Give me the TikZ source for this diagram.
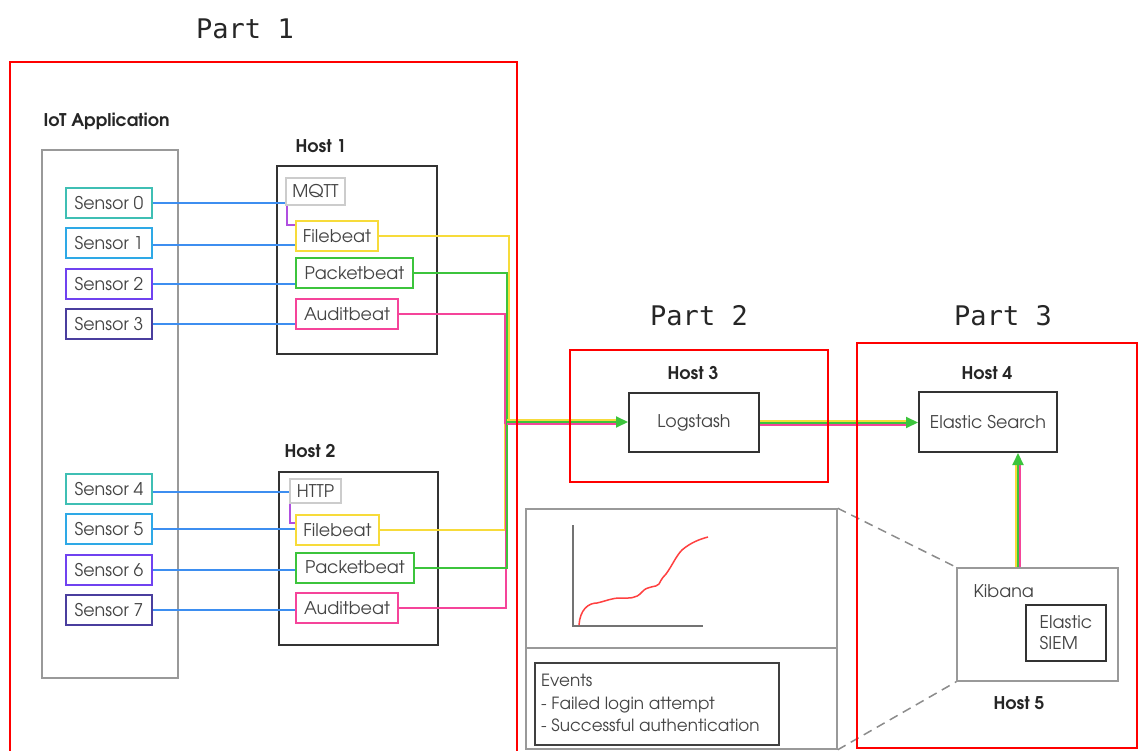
\documentclass[tikz,border=0pt]{standalone}
\usepackage{fontspec}
\setmainfont{TeX Gyre Adventor}
\newfontfamily\monof{DejaVu Sans Mono}
\usetikzlibrary{arrows.meta}
\definecolor{cteal}{HTML}{3FBFB4}
\definecolor{csky}{HTML}{2EA9E6}
\definecolor{cviolet}{HTML}{7042F0}
\definecolor{cindigo}{HTML}{4A3E9E}
\definecolor{cwire}{HTML}{3D8EF0}
\definecolor{cpurp}{HTML}{B04FE0}
\definecolor{cyel}{HTML}{F7DB3A}
\definecolor{cgrn}{HTML}{3CC43C}
\definecolor{cpink}{HTML}{F5449A}
\definecolor{ctext}{HTML}{444444}
\begin{document}
\begin{tikzpicture}[x=1pt,y=-1pt,
  frame/.style={draw=red,line width=2.5pt},
  partlbl/.style={font=\monof\fontsize{27}{30}\selectfont,text=black!85},
  hostlbl/.style={font=\bfseries\fontsize{17.5}{20}\selectfont,text=black!85},
  txt/.style={font=\fontsize{17.5}{21}\selectfont,text=ctext},
  sensor/.style={txt,draw,line width=2pt,minimum width=86pt,minimum height=30pt,inner sep=0pt},
  beat/.style={txt,draw,line width=2pt,minimum height=30pt,inner sep=0pt},
  hostbox/.style={draw=black!80,line width=2pt,inner sep=0pt},
  graybox/.style={draw=black!40,line width=1.5pt,inner sep=0pt},
  wire/.style={draw=cwire,line width=2pt},
  ywire/.style={draw=cyel,line width=2pt},
  gwire/.style={draw=cgrn,line width=2pt},
  pwire/.style={draw=cpink,line width=2pt},
  tip/.style={-{Triangle[length=12pt,width=11pt]}}
]
\useasboundingbox (0,0) rectangle (1138,751);
\fill[white] (0,0) rectangle (1138,751);

% Part labels
\node[partlbl] (p1) at (245,29) {Part 1};
\node[partlbl] (p2) at (699,316) {Part 2};
\node[partlbl] (p3) at (1003,316) {Part 3};

% IoT application
\node[hostlbl,anchor=west] (iotl) at (40,121) {IoT Application};
\node[graybox,minimum width=136pt,minimum height=528pt] (iot) at (110,414) {};

\node[sensor,draw=cteal] (s0) at (109,203) {Sensor 0};
\node[sensor,draw=csky] (s1) at (109,243) {Sensor 1};
\node[sensor,draw=cviolet] (s2) at (109,284) {Sensor 2};
\node[sensor,draw=cindigo] (s3) at (109,324) {Sensor 3};
\node[sensor,draw=cteal] (s4) at (109,489) {Sensor 4};
\node[sensor,draw=csky] (s5) at (109,529) {Sensor 5};
\node[sensor,draw=cviolet] (s6) at (109,570) {Sensor 6};
\node[sensor,draw=cindigo] (s7) at (109,610) {Sensor 7};

% Host 1
\node[hostlbl] (h1l) at (321,146) {Host 1};
\node[hostbox,minimum width=160pt,minimum height=188pt] (h1) at (357,260) {};
\node[txt,draw=black!20,line width=1.5pt,minimum width=59pt,minimum height=27pt,inner sep=0pt] (mqtt) at (315.5,191.5) {MQTT};
\node[beat,draw=cyel,minimum width=82pt] (fb1) at (337,236) {Filebeat};
\node[beat,draw=cgrn,minimum width=117pt] (pb1) at (354.5,273) {Packetbeat};
\node[beat,draw=cpink,minimum width=102pt] (ab1) at (347,314) {Auditbeat};

% Host 2
\node[hostlbl] (h2l) at (310,451) {Host 2};
\node[hostbox,minimum width=159pt,minimum height=173pt] (h2) at (358.5,558.5) {};
\node[txt,draw=black!20,line width=1.5pt,minimum width=51pt,minimum height=24pt,inner sep=0pt] (http) at (315.5,491) {HTTP};
\node[beat,draw=cyel,minimum width=83pt] (fb2) at (337.5,530) {Filebeat};
\node[beat,draw=cgrn,minimum width=118pt] (pb2) at (355,567.5) {Packetbeat};
\node[beat,draw=cpink,minimum width=102pt] (ab2) at (347,608) {Auditbeat};

% Sensor wires
\draw[wire] (s0.east) -- (s0.east -| mqtt.west);
\draw[wire] ([yshift=-2pt]s1.east) -- ([yshift=-2pt]s1.east -| fb1.west);
\draw[wire] (s2.east) -- (s2.east -| pb1.west);
\draw[wire] (s3.east) -- (s3.east -| ab1.west);
\draw[wire] ([yshift=-3pt]s4.east) -- ([yshift=-3pt]s4.east -| http.west);
\draw[wire] (s5.east) -- (s5.east -| fb2.west);
\draw[wire] (s6.east) -- (s6.east -| pb2.west);
\draw[wire] (s7.east) -- (s7.east -| ab2.west);
\draw[draw=cpurp,line width=2pt] ([xshift=2pt]mqtt.south west) |- ([yshift=11pt]fb1.west);
\draw[draw=cpurp,line width=2pt] ([xshift=1pt]http.south west) |- ([yshift=7pt]fb2.west);

% Bus
\coordinate (bus) at (507,422);
\draw[ywire] (fb1.east) -| ([xshift=2pt,yshift=2pt]bus);
\draw[gwire] (pb1.east) -| (bus);
\draw[pwire] (ab1.east) -| ([xshift=-2pt,yshift=-2pt]bus);
\draw[ywire] (fb2.east) -| ([xshift=-2pt,yshift=-2pt]bus);
\draw[pwire] (ab2.east) -| ([xshift=-1pt,yshift=-2pt]bus);
\draw[gwire] (pb2.east) -| (bus);

% Host 3
\node[hostlbl] (h3l) at (693,373) {Host 3};
\node[hostbox,minimum width=130pt,minimum height=59pt,txt] (ls) at (694,422.5) {Logstash};
\draw[ywire] ([yshift=2pt]bus) -- ([xshift=-11pt,yshift=2pt]bus -| ls.west);
\draw[pwire] ([yshift=-2pt]bus) -- ([xshift=-11pt,yshift=-2pt]bus -| ls.west);
\draw[gwire,tip] (bus) -- (bus -| ls.west);

% Host 4
\node[hostlbl] (h4l) at (987,373) {Host 4};
\node[hostbox,minimum width=138pt,minimum height=60pt,txt] (es) at (988,422) {Elastic Search};
\draw[ywire] ([yshift=2pt]ls.east) -- ([xshift=-11pt,yshift=2pt]ls.east -| es.west);
\draw[pwire] ([yshift=-2pt]ls.east) -- ([xshift=-11pt,yshift=-2pt]ls.east -| es.west);
\draw[gwire,tip] (ls.east) -- (ls.east -| es.west);

% Kibana / Host 5
\node[graybox,minimum width=161pt,minimum height=113pt] (kib) at (1037.5,624.5) {};
\node[txt,anchor=west] (kibl) at (970,591) {Kibana};
\node[hostbox,minimum width=80pt,minimum height=56pt,txt,align=left] (siem) at (1066,633) {Elastic\\SIEM};
\node[hostlbl] (h5l) at (1019,703) {Host 5};
\draw[ywire] ([xshift=-21.5pt]kib.north) -- ([xshift=-21.5pt,yshift=-11pt]kib.north |- es.south);
\draw[pwire] ([xshift=-17.5pt]kib.north) -- ([xshift=-17.5pt,yshift=-11pt]kib.north |- es.south);
\draw[gwire,tip] ([xshift=-19.5pt]kib.north) -- ([xshift=-19.5pt]kib.north |- es.south);

% Dashboard panel
\node[graybox,minimum width=311pt,minimum height=240pt] (panel) at (681.5,629) {};
\draw[draw=black!40,line width=1.5pt] (panel.west |- 0,648) -- (panel.east |- 0,648);
\draw[draw=black!45,line width=1.5pt,dash pattern=on 9pt off 6pt] (panel.north east) -- (kib.north west);
\draw[draw=black!45,line width=1.5pt,dash pattern=on 9pt off 6pt] (panel.south east) -- (kib.south west);
% chart
\draw[draw=black!55,line width=1.5pt] (573,525) -- (573,626) -- (703,626);
\draw[draw=red!75,line width=1.5pt] (579,625) .. controls (580,610) and (588,603) .. (597,603)
  .. controls (606,601) and (612,598) .. (620,598)
  .. controls (630,598) and (636,599) .. (642,592)
  .. controls (648,585) and (656,588) .. (659,584)
  .. controls (662,578) and (664,576) .. (666,574)
  .. controls (672,566) and (676,556) .. (682,550)
  .. controls (690,543) and (700,539) .. (708,537);
% events
\node[draw=black!75,line width=1.5pt,minimum width=244pt,minimum height=82pt,anchor=north west,inner sep=0pt] (evbox) at (534,662) {};
\node[txt,anchor=north west,align=left,font=\fontsize{16.8}{22.5}\selectfont,inner sep=0pt] (evt) at (541,674) {Events\\- Failed login attempt\\- Successful authentication};

% Part frames
\draw[frame] (10,62) rectangle (517,760);
\draw[frame] (570,350) rectangle (828,482);
\draw[frame] (857,343) rectangle (1137,748);
\end{tikzpicture}
\end{document}
